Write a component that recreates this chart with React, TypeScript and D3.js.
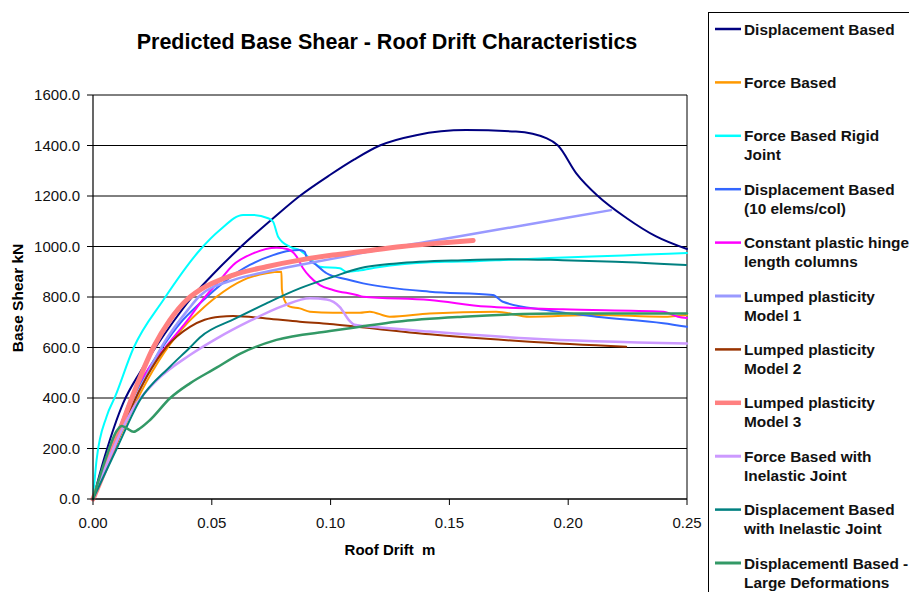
// @ts-nocheck
import React from "react";
import * as d3 from "d3";

// ---- data (x = roof drift m, y = base shear kN) ----
const xTicks = [0, 0.05, 0.1, 0.15, 0.2, 0.25];
const yTicks = [0, 200, 400, 600, 800, 1000, 1200, 1400, 1600];

const displacementBased = [
  [0, 0], [0.005, 170], [0.0127, 380], [0.02, 505], [0.027, 610], [0.034, 705],
  [0.0408, 790], [0.05, 885], [0.0618, 995], [0.075, 1105], [0.087, 1200],
  [0.1, 1285], [0.11, 1345], [0.1207, 1400], [0.136, 1441], [0.157, 1461],
  [0.178, 1455], [0.191, 1428], [0.1957, 1400], [0.2034, 1290], [0.2125, 1200],
  [0.2245, 1113], [0.237, 1040], [0.25, 990],
];
const forceBased = [
  [0, 0], [0.01, 220], [0.02, 420], [0.03, 580], [0.04, 700], [0.045, 745],
  [0.052, 801], [0.0632, 867], [0.073, 894], [0.0793, 900], [0.0795, 830],
  [0.0805, 790], [0.0828, 762], [0.087, 755], [0.0913, 742], [0.101, 738],
  [0.1123, 738], [0.1165, 742], [0.1249, 722], [0.1417, 735], [0.1697, 742],
  [0.1838, 722], [0.2118, 729], [0.24, 722], [0.25, 729],
];
const forceBasedRigid = [
  [0, 0], [0.0015, 154], [0.0057, 326], [0.0093, 405], [0.017, 597], [0.0296, 788],
  [0.045, 986], [0.0534, 1065], [0.0632, 1125], [0.0674, 1125], [0.0737, 1112],
  [0.0758, 1098], [0.0779, 1039], [0.0828, 999], [0.087, 986], [0.0913, 953],
  [0.0955, 920], [0.1039, 914], [0.1067, 900], [0.112, 905], [0.12, 918],
  [0.13, 930], [0.14, 937], [0.15, 940], [0.161, 942], [0.175, 948], [0.192, 954],
  [0.21, 960], [0.23, 967], [0.25, 974],
];
const displacement10 = [
  [0, 0], [0.01, 260], [0.02, 460], [0.0289, 597], [0.037, 700], [0.045, 775],
  [0.0562, 867], [0.066, 927], [0.0758, 966], [0.0828, 983], [0.087, 986],
  [0.0891, 979], [0.0898, 960], [0.094, 927], [0.0983, 894], [0.1067, 870],
  [0.1137, 854], [0.1417, 821], [0.1683, 808], [0.1725, 781], [0.1908, 748],
  [0.2118, 722], [0.24, 696], [0.25, 682],
];
const constantHinge = [
  [0, 0], [0.008, 190], [0.0156, 392], [0.024, 524], [0.0317, 615], [0.0408, 720],
  [0.045, 775], [0.0534, 867], [0.059, 927], [0.0674, 973], [0.0772, 995],
  [0.0821, 989], [0.0857, 960], [0.0884, 914], [0.0913, 880], [0.0955, 847],
  [0.101, 828], [0.111, 808], [0.1137, 801], [0.1417, 788], [0.1655, 762],
  [0.1978, 751], [0.24, 742], [0.2462, 722], [0.25, 717],
];
const lumped1 = [
  [0, 0], [0.01, 230], [0.02, 440], [0.03, 620], [0.04, 750], [0.045, 805],
  [0.059, 867], [0.073, 900], [0.087, 927], [0.1, 950], [0.1123, 973],
  [0.14, 1018], [0.17, 1066], [0.2, 1115], [0.218, 1144],
];
const lumped2 = [
  [0, 0], [0.0072, 154], [0.0156, 352], [0.0226, 484], [0.031, 603], [0.0408, 682],
  [0.047, 710], [0.0534, 722], [0.059, 725], [0.073, 715], [0.087, 702],
  [0.0997, 693], [0.111, 682], [0.1417, 652], [0.1838, 623], [0.2244, 603],
];
const lumped3 = [
  [0, 0], [0.005, 115], [0.01, 240], [0.018, 440], [0.0254, 600], [0.0324, 709],
  [0.0394, 788], [0.045, 828], [0.059, 887], [0.073, 920], [0.087, 946],
  [0.101, 966], [0.1123, 979], [0.13, 1000], [0.145, 1013], [0.16, 1024],
];
const forceInelastic = [
  [0, 0], [0.01, 230], [0.017, 360], [0.0268, 470], [0.0408, 570], [0.052, 635],
  [0.066, 705], [0.08, 765], [0.0913, 795], [0.0983, 790], [0.1039, 760],
  [0.108, 705], [0.11, 690], [0.12, 680], [0.1417, 663], [0.1838, 636],
  [0.25, 616],
];
const displacementInelastic = [
  [0, 0], [0.01, 200], [0.0198, 392], [0.0324, 524], [0.0408, 600], [0.045, 640],
  [0.06, 715], [0.073, 775], [0.087, 834], [0.101, 880], [0.1123, 914],
  [0.1277, 933], [0.1556, 946], [0.175, 950], [0.1976, 946], [0.22, 940],
  [0.2496, 927],
];
const largeDeformations = [
  [0, 0], [0.005, 150], [0.01, 270], [0.0121, 289], [0.0142, 280], [0.017, 266],
  [0.0198, 280], [0.024, 313], [0.0324, 399], [0.0408, 458], [0.052, 520],
  [0.0618, 575], [0.0772, 630], [0.0997, 665], [0.1123, 682], [0.1277, 702],
  [0.1557, 722], [0.1978, 735], [0.25, 735],
];

const seriesLabels = [
  "Displacement Based",
  "Force Based",
  "Force Based Rigid\nJoint",
  "Displacement Based\n(10 elems/col)",
  "Constant plastic hinge\nlength columns",
  "Lumped plasticity\nModel 1",
  "Lumped plasticity\nModel 2",
  "Lumped plasticity\nModel 3",
  "Force Based with\nInelastic Joint",
  "Displacement Based\nwith Inelastic Joint",
  "Displacementl Based -\nLarge Deformations",
];

const seriesData = [
  displacementBased, forceBased, forceBasedRigid, displacement10, constantHinge,
  lumped1, lumped2, lumped3, forceInelastic, displacementInelastic, largeDeformations,
];

// styles
const colors = [
  "#000080", "#FF9900", "#00FFFF", "#3366FF", "#FF00FF",
  "#9999FF", "#993300", "#FF8080", "#CC99FF", "#008080", "#339966",
];
const widths = [2, 2, 2, 2, 2, 2.5, 2, 5, 2.5, 2, 2.5];

const W = 909;
const H = 592;
const font = "'Liberation Sans', Arial, sans-serif";

export default function App() {
  const x = d3.scaleLinear().domain([0, 0.25]).range([93, 687]);
  const y = d3.scaleLinear().domain([0, 1600]).range([499, 95]);
  const line = d3
    .line()
    .x((d) => x(d[0]))
    .y((d) => y(d[1]))
    .curve(d3.curveMonotoneX);

  return (
    <svg
      width={W}
      height={H}
      style={{ position: "absolute", left: 0, top: 0, background: "#fff" }}
      fontFamily={font}
    >
      <rect x={0} y={0} width={W} height={H} fill="#fff" />

      {/* title */}
      <text x={387} y={49} textAnchor="middle" fontSize={21.5} fontWeight="bold" fill="#000">
        Predicted Base Shear - Roof Drift Characteristics
      </text>

      {/* gridlines */}
      {yTicks.map((t) => (
        <line key={"g" + t} x1={x(0)} x2={x(0.25)} y1={y(t)} y2={y(t)} stroke="#000" strokeWidth={1} />
      ))}
      <line x1={x(0.25)} x2={x(0.25)} y1={y(1600)} y2={y(0)} stroke="#000" strokeWidth={1} />

      {/* series */}
      {seriesData.map((d, i) => (
        <path
          key={"s" + i}
          d={line(d)}
          fill="none"
          stroke={colors[i]}
          strokeWidth={widths[i]}
          strokeLinejoin="round"
          strokeLinecap="round"
        />
      ))}

      {/* axes */}
      <line x1={x(0)} x2={x(0)} y1={y(1600)} y2={y(0)} stroke="#000" strokeWidth={1.2} />
      <line x1={x(0)} x2={x(0.25)} y1={y(0)} y2={y(0)} stroke="#000" strokeWidth={1.2} />
      {yTicks.map((t) => (
        <g key={"y" + t}>
          <line x1={x(0) - 6} x2={x(0)} y1={y(t)} y2={y(t)} stroke="#000" />
          <text x={80} y={y(t)} dy="0.36em" textAnchor="end" fontSize={15} fill="#111">
            {d3.format(".1f")(t)}
          </text>
        </g>
      ))}
      {xTicks.map((t) => (
        <g key={"x" + t}>
          <line x1={x(t)} x2={x(t)} y1={y(0)} y2={y(0) + 6} stroke="#000" />
          <text x={x(t)} y={528} textAnchor="middle" fontSize={15} fill="#111">
            {d3.format(".2f")(t)}
          </text>
        </g>
      ))}

      {/* axis titles */}
      <text x={390} y={555} textAnchor="middle" fontSize={15} fontWeight="bold" style={{ whiteSpace: "pre" }}>
        {"Roof Drift  m"}
      </text>
      <text
        transform={`translate(23,298) rotate(-90)`}
        textAnchor="middle"
        fontSize={15.5}
        fontWeight="bold"
      >
        Base Shear kN
      </text>

      {/* legend */}
      <rect x={708.5} y={12.5} width={240} height={620} fill="#fff" stroke="#000" strokeWidth={1} />
      {seriesLabels.map((label, i) => {
        const cy = 29 + i * 53.4;
        return (
          <g key={"l" + i}>
            <line
              x1={715}
              x2={741}
              y1={cy}
              y2={cy}
              stroke={colors[i]}
              strokeWidth={i === 7 ? 4.5 : Math.min(widths[i], 2.5) + 0.5}
            />
            {label.split("\n").map((s, j) => (
              <text key={j} x={744} y={cy + j * 19} dy="0.36em" fontSize={15.4} fontWeight="bold" fill="#111">
                {s}
              </text>
            ))}
          </g>
        );
      })}
    </svg>
  );
}
